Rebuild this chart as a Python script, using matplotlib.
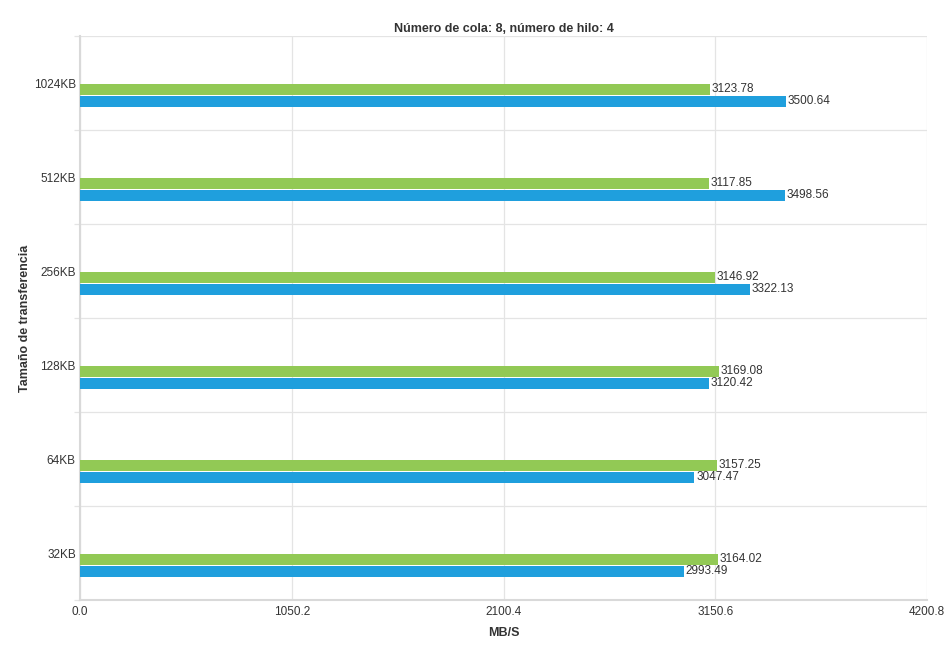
import numpy as np
import matplotlib
matplotlib.use("Agg")
import matplotlib.pyplot as plt
from matplotlib import font_manager

# Tamaño de transferencia vs. MB/S
sizes = ["32KB", "64KB", "128KB", "256KB", "512KB", "1024KB"]
green_vals = [3164.02, 3157.25, 3169.08, 3146.92, 3117.85, 3123.78]
blue_vals = [2993.49, 3047.47, 3120.42, 3322.13, 3498.56, 3500.64]
xticks = [0.0, 1050.2, 2100.4, 3150.6, 4200.8]

names = {f.name for f in font_manager.fontManager.ttflist}
fam = "Liberation Sans Narrow" if "Liberation Sans Narrow" in names else "Liberation Sans"
plt.rcParams["font.family"] = [fam, "DejaVu Sans"]

fig = plt.figure(figsize=(9.46, 6.47), dpi=100)
ax = fig.add_axes([80 / 946, 1 - 600 / 647, (927 - 80) / 946, (600 - 36) / 647])

y = np.arange(len(sizes))
h = 0.115
g_off = 0.068
b_off = 0.196
ax.barh(y - g_off, green_vals, height=h, color="#92c955", zorder=3)
ax.barh(y - b_off, blue_vals, height=h, color="#1f9fdd", zorder=3)

for yi, g, b in zip(y, green_vals, blue_vals):
    ax.text(g + 8, yi - g_off, f"{g:.2f}", va="center", ha="left", fontsize=8.5, color="#333333")
    ax.text(b + 8, yi - b_off, f"{b:.2f}", va="center", ha="left", fontsize=8.5, color="#333333")

ax.set_xlim(0, 4200.8)
ax.set_ylim(-0.5, len(sizes) - 0.5)
ax.set_xticks(xticks)
ax.set_xticklabels([f"{v:.1f}" for v in xticks], fontsize=8.5, color="#333333")
ax.set_yticks(y)
ax.set_yticklabels(sizes, fontsize=8.5, color="#333333")

# grid: vertical at x ticks, horizontal at band edges
ax.set_yticks(np.arange(-0.5, len(sizes)), minor=True)
ax.grid(axis="x", which="major", color="#e4e4e4", linewidth=0.9, zorder=0)
ax.grid(axis="y", which="minor", color="#e4e4e4", linewidth=0.9, zorder=0)
ax.tick_params(axis="both", which="major", length=0, pad=4)
ax.tick_params(axis="y", which="minor", length=4, color="#e4e4e4", width=0.9)
ax.tick_params(axis="y", which="major", pad=3)

for s in ["top", "right"]:
    ax.spines[s].set_visible(False)
ax.spines["left"].set_color("#d9d9d9")
ax.spines["left"].set_linewidth(1.5)
ax.spines["bottom"].set_color("#d9d9d9")
ax.spines["bottom"].set_linewidth(1.5)

ax.set_xlabel("MB/S", fontsize=9, fontweight="bold", color="#333333", labelpad=7)
ax.set_ylabel("Tamaño de transferencia", fontsize=9, fontweight="bold", color="#333333", labelpad=2)
ax.set_title("Número de cola: 8, número de hilo: 4", fontsize=9, fontweight="bold", color="#333333", pad=3)

fig.savefig("out.png", dpi=100)
